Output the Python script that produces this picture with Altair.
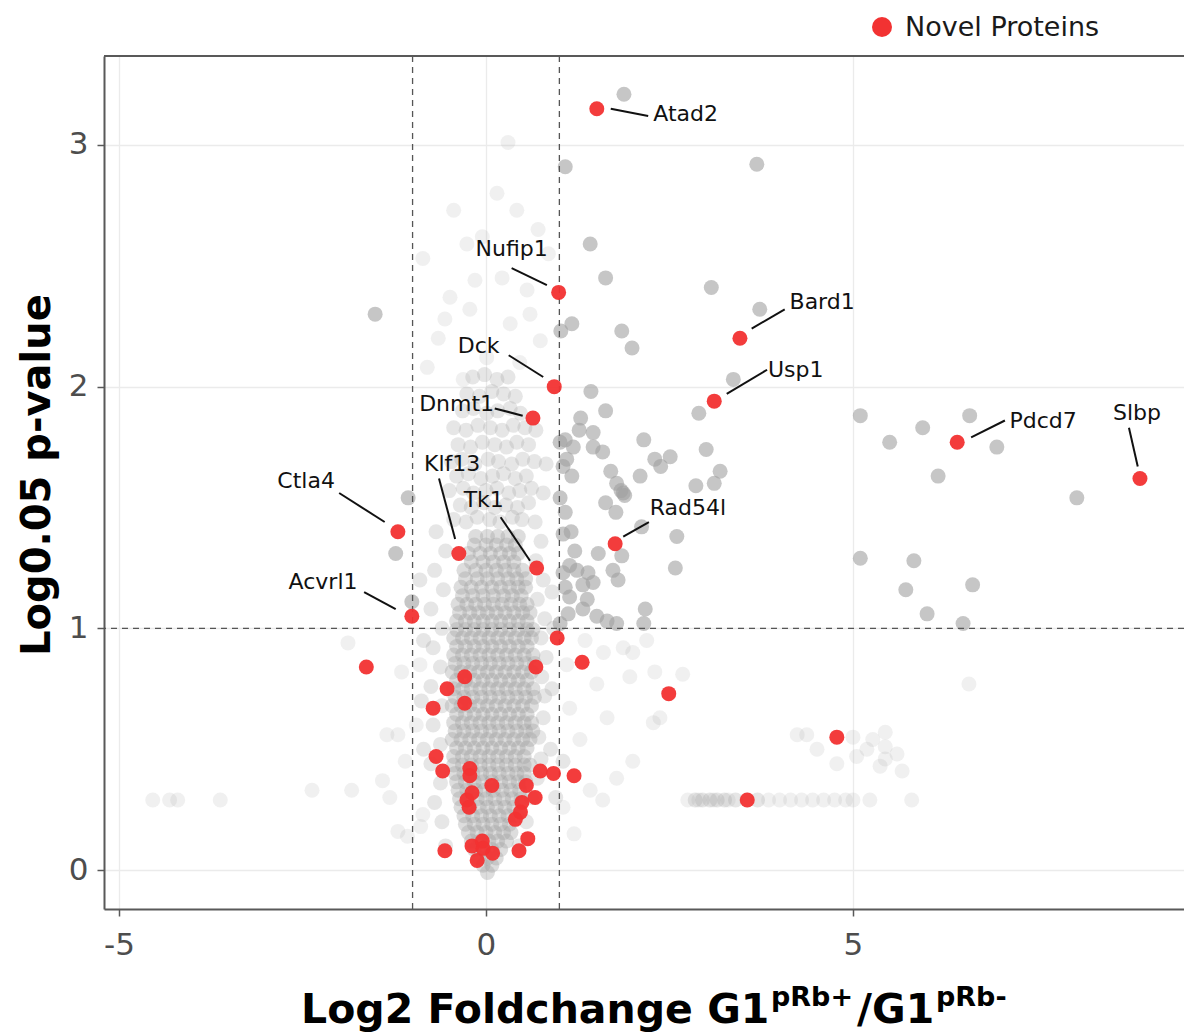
import altair as alt
import pandas as pd

RED = "#f23232"
GRAY = "#a0a0a0"

# ---------------- data ----------------
# labelled novel proteins
lab_names = ["Atad2", "Nufip1", "Bard1", "Dck", "Usp1", "Dnmt1", "Pdcd7", "Slbp",
             "Ctla4", "Klf13", "Tk1", "Rad54l", "Acvrl1"]
lab_x = [1.51, 0.99, 3.46, 0.93, 3.11, 0.64, 6.42, 8.91, -1.20, -0.37, 0.69, 1.76, -1.01]
lab_y = [3.15, 2.39, 2.20, 2.00, 1.94, 1.87, 1.77, 1.62, 1.40, 1.31, 1.25, 1.35, 1.05]
# label text anchors
txt_x = [2.72, 0.35, 4.58, -0.10, 4.22, -0.40, 7.59, 8.87, -2.45, -0.46, -0.03, 2.75, -2.22]
txt_y = [3.13, 2.57, 2.35, 2.17, 2.07, 1.93, 1.86, 1.89, 1.61, 1.68, 1.53, 1.50, 1.19]
# leader segments (label end -> point end)
seg_x1 = [2.21, 0.35, 4.07, 0.31, 3.83, 0.12, 7.07, 8.76, -2.00, -0.64, 0.20, 2.22, -1.66]
seg_y1 = [3.12, 2.49, 2.32, 2.13, 2.07, 1.91, 1.86, 1.83, 1.56, 1.62, 1.46, 1.44, 1.15]
seg_x2 = [1.70, 0.83, 3.62, 0.78, 3.28, 0.50, 6.61, 8.88, -1.38, -0.42, 0.60, 1.87, -1.23]
seg_y2 = [3.15, 2.42, 2.24, 2.04, 1.97, 1.88, 1.79, 1.67, 1.44, 1.37, 1.28, 1.38, 1.08]

# other novel proteins (unlabelled)
red_x = [0.97, -1.63, 0.68, 1.31, 2.49, -0.29, -0.53, -0.29, -0.72, -0.68, -0.59, -0.22,
         -0.22, 0.08, -0.26, -0.19, -0.23, 0.74, 0.92, 1.20, 0.55, 0.67, 0.49, 0.47,
         0.40, 0.57, 0.45, -0.56, -0.19, -0.05, 0.09, -0.12, -0.04, 4.78, 3.56]
red_y = [0.96, 0.84, 0.84, 0.86, 0.73, 0.80, 0.75, 0.69, 0.67, 0.47, 0.41, 0.42,
         0.39, 0.35, 0.29, 0.32, 0.26, 0.41, 0.40, 0.39, 0.35, 0.30, 0.28, 0.24,
         0.21, 0.13, 0.08, 0.08, 0.10, 0.12, 0.07, 0.04, 0.09, 0.55, 0.29]

# significant (solid grey) proteins
sig_x = [1.88, 1.08, 3.69, 1.42, 1.63, 3.07, 3.73, 1.17, 1.02, 1.85, 1.99, -1.51, 1.43,
         1.63, 1.29, 1.46, 1.27, 3.37, 2.90, 2.15, 3.00, 2.51, 2.30, 2.38, 2.10, 1.70,
         3.19, 3.11, 2.86, 1.84, 1.63, 1.77, 2.60, 1.16, 1.21, 1.53, 1.85, 2.58, 1.73,
         1.80, 2.17, 2.15, 5.10, 5.50, 5.95, 6.59, 6.96, 6.16, 8.05, 5.10, 5.83, 5.72,
         6.63, 6.01, 6.50, 1.08, 1.19, 1.46, 1.59, 1.10, 1.05, 1.17, 1.78, 1.87, 2.12,
         1.05, 1.24, 1.39, 1.08, 1.32, 1.46, 1.14, 1.38, 1.12, 1.32, 1.51, 1.65, 1.78,
         1.01, 1.14, -1.06, -1.23, -1.01, 1.01, 1.89, 1.05, 1.08, 1.01]
sig_y = [3.21, 2.91, 2.92, 2.59, 2.45, 2.41, 2.32, 2.26, 2.23, 2.23, 2.16, 2.30, 1.98,
         1.90, 1.87, 1.81, 1.82, 2.03, 1.89, 1.78, 1.74, 1.71, 1.70, 1.67, 1.63, 1.65,
         1.65, 1.60, 1.59, 1.57, 1.52, 1.48, 1.38, 1.40, 1.32, 1.31, 1.30, 1.25, 1.24,
         1.20, 1.08, 1.02, 1.88, 1.77, 1.83, 1.88, 1.75, 1.63, 1.54, 1.29, 1.28, 1.16,
         1.18, 1.06, 1.02, 1.78, 1.75, 1.75, 1.73, 1.70, 1.67, 1.63, 1.60, 1.56, 1.42,
         1.23, 1.24, 1.23, 1.17, 1.18, 1.19, 1.13, 1.12, 1.06, 1.08, 1.05, 1.03, 1.02,
         1.02, 1.26, 1.54, 1.31, 1.11, 1.77, 1.55, 1.39, 1.48, 1.54]

# dense core of non-significant proteins: (log p, [log2 FC ...]) rows
core_rows = [
    (-0.01, [0.02]),
    (0.02, [-0.04, 0.08]),
    (0.05, [-0.10, 0.02, 0.14]),
    (0.085, [-0.16, -0.04, 0.08, 0.20]),
    (0.12, [-0.20, -0.08, 0.04, 0.16, 0.28]),
    (0.155, [-0.24, -0.12, 0.00, 0.12, 0.24, 0.34]),
    (0.19, [-0.28, -0.16, -0.04, 0.08, 0.20, 0.32]),
    (0.225, [-0.30, -0.18, -0.06, 0.06, 0.18, 0.30, 0.42]),
    (0.26, [-0.34, -0.22, -0.10, 0.02, 0.14, 0.26, 0.38]),
    (0.295, [-0.36, -0.24, -0.12, 0.00, 0.12, 0.24, 0.36, 0.48]),
    (0.33, [-0.38, -0.26, -0.14, -0.02, 0.10, 0.22, 0.34, 0.46]),
    (0.365, [-0.40, -0.28, -0.16, -0.04, 0.08, 0.20, 0.32, 0.44, 0.54]),
    (0.40, [-0.42, -0.30, -0.18, -0.06, 0.06, 0.18, 0.30, 0.42, 0.52]),
    (0.435, [-0.44, -0.32, -0.20, -0.08, 0.04, 0.16, 0.28, 0.40, 0.52, 0.60]),
    (0.47, [-0.44, -0.32, -0.20, -0.08, 0.04, 0.16, 0.28, 0.40, 0.52]),
    (0.505, [-0.40, -0.28, -0.16, -0.04, 0.08, 0.20, 0.32, 0.44, 0.56]),
    (0.54, [-0.46, -0.34, -0.22, -0.10, 0.02, 0.14, 0.26, 0.38, 0.50, 0.60]),
    (0.575, [-0.42, -0.30, -0.18, -0.06, 0.06, 0.18, 0.30, 0.42, 0.54, 0.64]),
    (0.61, [-0.44, -0.32, -0.20, -0.08, 0.04, 0.16, 0.28, 0.40, 0.52, 0.62]),
    (0.645, [-0.40, -0.28, -0.16, -0.04, 0.08, 0.20, 0.32, 0.44, 0.56]),
    (0.68, [-0.46, -0.34, -0.22, -0.10, 0.02, 0.14, 0.26, 0.38, 0.50, 0.62]),
    (0.715, [-0.42, -0.30, -0.18, -0.06, 0.06, 0.18, 0.30, 0.42, 0.54, 0.66]),
    (0.75, [-0.44, -0.32, -0.20, -0.08, 0.04, 0.16, 0.28, 0.40, 0.52, 0.64]),
    (0.785, [-0.40, -0.28, -0.16, -0.04, 0.08, 0.20, 0.32, 0.44, 0.56]),
    (0.82, [-0.46, -0.34, -0.22, -0.10, 0.02, 0.14, 0.26, 0.38, 0.50, 0.62]),
    (0.855, [-0.42, -0.30, -0.18, -0.06, 0.06, 0.18, 0.30, 0.42, 0.54, 0.66]),
    (0.89, [-0.44, -0.32, -0.20, -0.08, 0.04, 0.16, 0.28, 0.40, 0.52, 0.64]),
    (0.925, [-0.40, -0.28, -0.16, -0.04, 0.08, 0.20, 0.32, 0.44, 0.56]),
    (0.96, [-0.44, -0.32, -0.20, -0.08, 0.04, 0.16, 0.28, 0.40, 0.52, 0.62]),
    (0.995, [-0.40, -0.28, -0.16, -0.04, 0.08, 0.20, 0.32, 0.44, 0.56, 0.64]),
    (1.03, [-0.40, -0.28, -0.16, -0.04, 0.08, 0.20, 0.32, 0.44, 0.56]),
    (1.065, [-0.36, -0.22, -0.10, 0.02, 0.14, 0.26, 0.38, 0.50, 0.60]),
    (1.10, [-0.38, -0.26, -0.14, -0.02, 0.10, 0.22, 0.34, 0.46, 0.56]),
    (1.135, [-0.32, -0.18, -0.04, 0.10, 0.24, 0.36, 0.48]),
    (1.17, [-0.34, -0.20, -0.06, 0.08, 0.20, 0.32, 0.44, 0.54]),
    (1.205, [-0.28, -0.12, 0.02, 0.16, 0.30, 0.42, 0.54]),
    (1.24, [-0.30, -0.14, 0.00, 0.14, 0.26, 0.38, 0.50]),
    (1.275, [-0.20, -0.04, 0.10, 0.24, 0.38]),
    (1.31, [-0.24, -0.08, 0.06, 0.20, 0.32, 0.44]),
    (1.345, [-0.16, 0.00, 0.14, 0.28, 0.40]),
    (1.38, [-0.14, 0.02, 0.16, 0.30, 0.44]),
]

# medium-density halo around the core and the upper part of the cloud
mid_x = [-0.55, -0.60, -0.70, -0.62, -0.75, -0.62, -0.72, -0.60, -0.75, -0.62, -0.72, -0.60,
         -0.75, -0.58, -0.70, -0.55, -0.68, -0.85, -0.88, -0.85, -0.90,
         0.45, 0.55, 0.62, 0.70, 0.75, 0.72, 0.78, 0.80, 0.76, 0.82, 0.75, 0.80, 0.70,
         0.78, 0.68, 0.75, 0.88, 0.90, 0.92, 0.90, 0.95, 1.05,
         -0.44, -0.27, -0.12, 0.05, 0.19, 0.36, 0.49, 0.67,
         -0.35, -0.20, -0.03, 0.12, 0.27, 0.43, 0.58,
         -0.50, -0.31, -0.17, 0.00, 0.15, 0.31, 0.46, 0.62, 0.78,
         -0.40, -0.24, -0.07, 0.09, 0.24, 0.40, 0.55,
         -0.47, -0.33, -0.15, 0.03, 0.17, 0.35, 0.50, 0.66, 0.82,
         -0.38, -0.21, -0.05, 0.12, 0.28, 0.42, 0.58,
         -0.44, -0.27, -0.11, 0.06, 0.22, 0.37, 0.53, 0.68,
         -0.32, -0.17, 0.01, 0.16, 0.33, 0.47,
         -0.26, -0.09, 0.08, 0.24, 0.40,
         -0.18, -0.02, 0.15, 0.30,
         2.85, 2.95, 3.05, 3.15, 3.25, 3.40, 3.70]
mid_y = [0.10, 0.20, 0.28, 0.36, 0.44, 0.52, 0.60, 0.68, 0.76, 0.84, 0.92, 1.00,
         1.08, 1.16, 1.24, 1.32, 1.40, 0.95, 0.70, 0.50, 1.20,
         0.10, 0.20, 0.30, 0.38, 0.46, 0.55, 0.63, 0.72, 0.80, 0.88, 0.96, 1.04, 1.12,
         1.20, 1.28, 1.36, 0.50, 0.75, 1.00, 1.15, 0.30, 0.45,
         1.45, 1.44, 1.46, 1.45, 1.44, 1.46, 1.45, 1.44,
         1.51, 1.50, 1.52, 1.50, 1.51, 1.50, 1.52,
         1.57, 1.58, 1.56, 1.57, 1.58, 1.56, 1.57, 1.58, 1.56,
         1.63, 1.64, 1.62, 1.63, 1.64, 1.62, 1.63,
         1.69, 1.70, 1.68, 1.70, 1.69, 1.68, 1.70, 1.69, 1.68,
         1.76, 1.75, 1.77, 1.76, 1.75, 1.77, 1.76,
         1.83, 1.82, 1.84, 1.83, 1.82, 1.84, 1.83, 1.82,
         1.90, 1.91, 1.89, 1.90, 1.91, 1.89,
         1.97, 1.96, 1.98, 1.97, 1.96,
         2.04, 2.05, 2.03, 2.04,
         0.29, 0.29, 0.29, 0.29, 0.29, 0.29, 0.29]

# sparse, faint non-significant proteins
faint_x = [-4.54, -4.31, -4.20, -3.62, -2.37, -1.83, -1.41, -1.31, -1.20, -1.35, -0.86,
           -1.20, -1.07, -0.89, -1.10, -0.95, -0.90, -1.15, -1.88,
           0.30, -0.44, 0.15, 0.42, -0.86, 0.71, -0.26, -0.15, -0.49, 0.22, 0.56, -0.56,
           -0.22, 0.33, 0.74, -0.80, -0.31, 0.46, 0.01, -0.65, 0.60, 0.85, -0.05,
           1.14, 1.65, 1.78, 1.42, 1.05, 1.59, 1.96, 2.28, 2.68, 2.19, 1.87, 1.51, 1.28,
           2.37, 2.00, 1.20, 1.10, 1.35, 1.60, 2.00, 2.30,
           2.75, 2.90, 3.10, 3.30, 3.55, 3.85, 4.00, 4.15, 4.30, 4.45, 4.60, 4.75, 4.90,
           5.00, 5.23, 5.80,
           4.24, 4.37, 4.51, 4.78, 5.05, 5.00, 5.27, 5.44, 5.44, 5.44, 5.60, 5.67, 5.37,
           5.19, 6.58]
faint_y = [0.29, 0.29, 0.29, 0.29, 0.33, 0.33, 0.37, 0.30, 0.56, 0.56, 0.23,
           0.16, 0.14, 0.18, 0.45, 0.60, 0.85, 0.82, 0.94,
           3.01, 2.73, 2.80, 2.73, 2.53, 2.65, 2.59, 2.44, 2.37, 2.45, 2.40, 2.28,
           2.32, 2.26, 2.19, 2.08, 2.03, 2.10, 2.12, 2.20, 2.30, 2.55, 2.62,
           0.67, 0.63, 0.38, 0.33, 0.26, 0.29, 0.80, 0.61, 0.81, 0.95, 0.92, 0.77, 0.54,
           0.63, 0.45, 0.15, 0.85, 0.95, 0.90, 0.90, 0.82,
           0.29, 0.29, 0.29, 0.29, 0.29, 0.29, 0.29, 0.29, 0.29, 0.29, 0.29, 0.29, 0.29,
           0.29, 0.29, 0.29,
           0.56, 0.56, 0.50, 0.44, 0.47, 0.55, 0.54, 0.57, 0.51, 0.46, 0.48, 0.41, 0.43,
           0.50, 0.77]

vlines = [-1, 1]
hlines = [1]
x_ticks = [-5, 0, 5]
y_ticks = [0, 1, 2, 3]
legend_label = ["Novel Proteins"]

# ---------------- frames ----------------
core_df = pd.DataFrame([{"x": xv, "y": yv} for yv, xs in core_rows for xv in xs])
mid_df = pd.DataFrame({"x": mid_x, "y": mid_y})
faint_df = pd.DataFrame({"x": faint_x, "y": faint_y})
sig_df = pd.DataFrame({"x": sig_x, "y": sig_y})
red_df = pd.DataFrame({"x": red_x + lab_x, "y": red_y + lab_y})
lab_df = pd.DataFrame({"name": lab_names, "x": txt_x, "y": txt_y})
seg_df = pd.DataFrame({"x": seg_x1, "y": seg_y1, "x2": seg_x2, "y2": seg_y2})
vl_df = pd.DataFrame({"x": vlines})
hl_df = pd.DataFrame({"y": hlines})
one = pd.DataFrame({"t": legend_label})

W, H = 1080, 853
xscale = alt.Scale(domain=[-5.204, 9.51], nice=False, zero=False)
yscale = alt.Scale(domain=[-0.161, 3.368], nice=False, zero=False)

axis_common = dict(
    grid=True, gridColor="#ebebeb", gridWidth=1.3,
    domainColor="#595959", domainWidth=2,
    tickColor="#595959", tickWidth=1.5, tickSize=7,
    labelFont="DejaVu Sans", labelFontSize=31, labelColor="#4d4d4d",
    labelExpr="'' + datum.value",
    title=None,
)
xaxis = alt.Axis(values=x_ticks, labelPadding=14, **axis_common)
yaxis = alt.Axis(values=y_ticks, labelPadding=9, **axis_common)

X = alt.X("x:Q", scale=xscale, axis=xaxis)
Y = alt.Y("y:Q", scale=yscale, axis=yaxis)

PT = 225

faint = alt.Chart(faint_df).mark_circle(size=PT, color=GRAY, opacity=0.16).encode(x=X, y=Y)
mid = alt.Chart(mid_df).mark_circle(size=PT, color=GRAY, opacity=0.26).encode(x=X, y=Y)
core = alt.Chart(core_df).mark_circle(size=PT, color=GRAY, opacity=0.36).encode(x=X, y=Y)
sig = alt.Chart(sig_df).mark_circle(size=PT, color=GRAY, opacity=0.6).encode(x=X, y=Y)

vrule = alt.Chart(vl_df).mark_rule(color="#555555", strokeWidth=1.3, strokeDash=[6, 5]).encode(x=X)
hrule = alt.Chart(hl_df).mark_rule(color="#555555", strokeWidth=1.3, strokeDash=[6, 5]).encode(y=Y)

red = alt.Chart(red_df).mark_circle(size=PT, color=RED, opacity=0.95).encode(x=X, y=Y)

segs = alt.Chart(seg_df).mark_rule(color="#111111", strokeWidth=2).encode(
    x=X, y=Y, x2="x2:Q", y2="y2:Q")
labels = alt.Chart(lab_df).mark_text(
    font="DejaVu Sans", fontSize=22, color="#111111", baseline="middle", align="center"
).encode(x=X, y=Y, text="name:N")

topline = alt.Chart(one).mark_rule(color="#595959", strokeWidth=2).encode(
    x=alt.value(0), x2=alt.value(W), y=alt.value(0))

# legend
leg_dot = alt.Chart(one).mark_circle(size=400, color=RED, opacity=1).encode(
    x=alt.value(778), y=alt.value(-29))
leg_txt = alt.Chart(one).mark_text(
    font="DejaVu Sans", fontSize=27, color="#1a1a1a", align="left", baseline="middle"
).encode(x=alt.value(801), y=alt.value(-28), text="t:N")

# axis titles
ytitle = alt.Chart(one).mark_text(
    text="Log0.05 p-value", font="DejaVu Sans", fontWeight="bold", fontSize=40,
    color="#000000", angle=270, align="center", baseline="alphabetic"
).encode(x=alt.value(-54), y=alt.value(419))

TB = 967
SB = 950
xt1 = alt.Chart(one).mark_text(
    text="Log2 Foldchange G1", font="DejaVu Sans", fontWeight="bold", fontSize=41,
    color="#000000", align="left", baseline="alphabetic").encode(x=alt.value(197), y=alt.value(TB))
xt2 = alt.Chart(one).mark_text(
    text="pRb+", font="DejaVu Sans", fontWeight="bold", fontSize=27,
    color="#000000", align="left", baseline="alphabetic").encode(x=alt.value(667), y=alt.value(SB))
xt3 = alt.Chart(one).mark_text(
    text="/G1", font="DejaVu Sans", fontWeight="bold", fontSize=41,
    color="#000000", align="left", baseline="alphabetic").encode(x=alt.value(753), y=alt.value(TB))
xt4 = alt.Chart(one).mark_text(
    text="pRb-", font="DejaVu Sans", fontWeight="bold", fontSize=27,
    color="#000000", align="left", baseline="alphabetic").encode(x=alt.value(832), y=alt.value(SB))

chart = alt.layer(
    faint, mid, core, sig, vrule, hrule, red, segs, labels, topline,
    leg_dot, leg_txt, ytitle, xt1, xt2, xt3, xt4
).properties(
    width=W, height=H,
    autosize=alt.AutoSizeParams(type="none"),
    padding={"left": 104, "top": 56, "right": 0, "bottom": 123},
    background="white",
).configure_view(stroke=None)

chart.save("out.html", embed_options={"renderer": "svg", "actions": False})
